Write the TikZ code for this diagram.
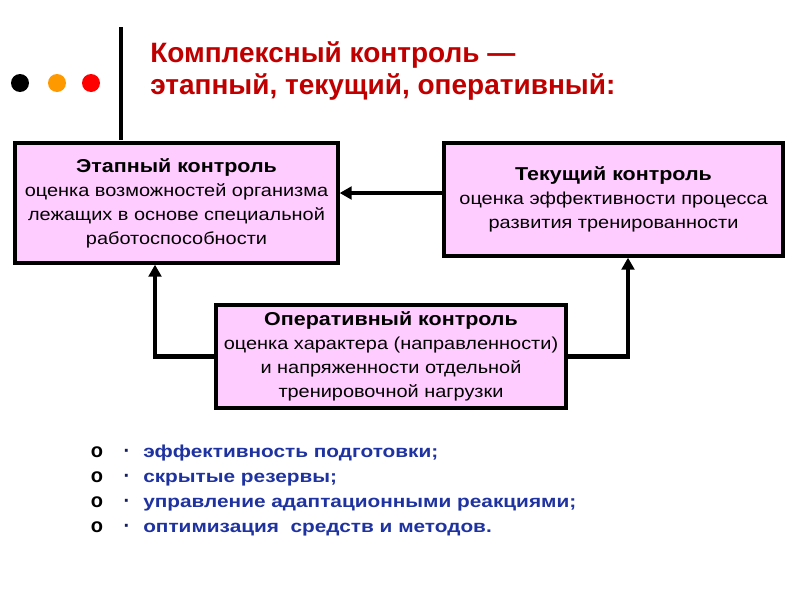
\documentclass[tikz,border=0pt]{standalone}
\usepackage{fontspec}
\setmainfont{Liberation Sans}
\newfontfamily\boxfont[FakeStretch=1.15]{Liberation Sans}
\newfontfamily\listfont[FakeStretch=1.2]{Liberation Sans}
\usetikzlibrary{arrows.meta,calc}
\definecolor{boxpink}{RGB}{255,204,255}
\definecolor{titlered}{RGB}{192,0,0}
\definecolor{listblue}{RGB}{30,50,160}
\definecolor{dotorange}{RGB}{255,153,0}
\newcommand{\boxhead}[1]{{\fontsize{14}{18}\selectfont\bfseries #1}}
\tikzset{
  box/.style={draw=black,line width=2.5pt,fill=boxpink,align=center,inner sep=0pt,font=\boxfont\fontsize{13}{18}\selectfont},
  arr/.style={line width=3.2pt,-{Triangle[length=9pt,width=9.5pt]}},
  listitem/.style={anchor=base west,inner sep=0pt,text=listblue,font=\listfont\fontsize{13}{15}\selectfont\bfseries},
  mark circle/.style={anchor=base,inner sep=0pt,font=\fontsize{15}{15}\selectfont\bfseries}
}
\begin{document}
\begin{tikzpicture}[x=0.75pt,y=-0.75pt]
\useasboundingbox (0,0) rectangle (800,600);
\fill[white] (0,0) rectangle (800,600);
% decoration
\draw[line width=2.4pt] (121,27) coordinate (vtop) -- (121,140) coordinate (vbot);
\fill[black] (20,83) circle (9);
\fill[dotorange] (57,83) circle (9);
\fill[red] (91,83) circle (9);
% title
\node[anchor=base west,inner sep=0pt,text=titlered,font=\fontsize{21}{21}\selectfont\bfseries] (title) at (150,62)
  {Комплексный контроль —};
\node[anchor=base west,inner sep=0pt,text=titlered,font=\fontsize{21}{21}\selectfont\bfseries] (title2) at (150,94)
  {этапный, текущий, оперативный:};
% boxes
\node[box,minimum width=242.25pt,minimum height=90pt] (etap) at (176.5,203)
  {\boxhead{Этапный контроль}\\оценка возможностей организма\\лежащих в основе специальной\\работоспособности};
\node[box,minimum width=254.25pt,minimum height=84.75pt] (tek) at (613.5,199.5)
  {\boxhead{Текущий контроль}\\оценка эффективности процесса\\развития тренированности};
\node[box,minimum width=262.5pt,minimum height=77.25pt] (oper) at (391,356.5)
  {\boxhead{Оперативный контроль}\\оценка характера (направленности)\\и напряженности отдельной\\тренировочной нагрузки};
% connectors
\coordinate (tekin) at ($(tek.west)+(0,-6.5)$);
\draw[arr] (tekin) -- (etap.east |- tekin);
\draw[arr] (oper.west) -| ($(etap.south)+(-21.5,0)$);
\draw[arr] (oper.east) -| ($(tek.south)+(14.5,0)$);
% list
\foreach \y/\t [count=\i] in {457/{эффективность подготовки;},482/{скрытые резервы;},507/{управление адаптационными реакциями;},532/{оптимизация\ \ средств и методов.}}{
  \node[mark circle] (m\i) at (97,\y) {o};
  \node[mark circle,text=listblue!60!black] (d\i) at (127,\y) {·};
  \node[listitem] (l\i) at (143,\y) {\t};
}
\end{tikzpicture}
\end{document}
